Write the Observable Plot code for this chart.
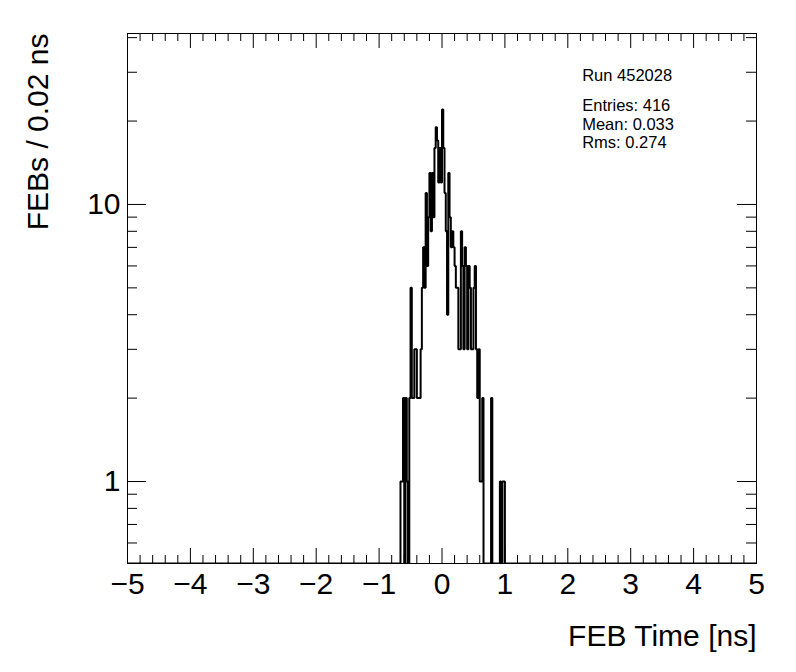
<!DOCTYPE html>
<html>
<head>
<meta charset="utf-8">
<script src="https://cdn.jsdelivr.net/npm/d3@7"></script>
<script src="https://cdn.jsdelivr.net/npm/@observablehq/plot@0.6"></script>
<style>
  html, body { margin: 0; padding: 0; background: #fff; }
  #chart { width: 796px; height: 672px; }
</style>
</head>
<body>
<div id="chart"></div>
<script>
// ---- data ----
const binWidth = 0.02;
const firstBinLowEdge = -0.66;
const counts = [
  1, 1, 2, 0, 2, 1, 0, 2, 5, 2,      // -0.66 .. -0.48
  2, 3, 3, 2, 2, 2, 3, 5, 7, 5,      // -0.46 .. -0.28
  11, 6, 9, 13, 8, 13, 9, 16, 19, 17, // -0.26 .. -0.08
  12, 16, 12, 22, 16, 11, 8, 4, 13, 9, // -0.06 .. 0.12
  7, 8, 7, 6, 5, 5, 3, 3, 8, 6,      // 0.14 .. 0.32
  3, 7, 6, 3, 6, 5, 3, 3, 5, 6,      // 0.34 .. 0.52
  3, 2, 3, 1, 1, 2, 0, 0, 0, 0,      // 0.54 .. 0.72
  0, 0, 2, 0, 0, 0, 0, 0, 0, 1,      // 0.74 .. 0.92
  0, 1, 1                            // 0.94 .. 0.98
];
const xDomain = [-5, 5];
const yDomain = [0.506, 41.4];
const xMajorTicks = [-5, -4, -3, -2, -1, 0, 1, 2, 3, 4, 5];
const yMajorTicks = [1, 10];
const yMinorTicks = [0.6, 0.7, 0.8, 0.9, 2, 3, 4, 5, 6, 7, 8, 9, 20, 30, 40];
const xTitle = "FEB Time [ns]";
const yTitle = "FEBs / 0.02 ns";
const runLabel = "Run 452028";
const statsLines = ["Entries: 416", "Mean: 0.033", "Rms: 0.274"];

// ---- build step series ----
const bins = counts.map((c, i) => ({x: +(firstBinLowEdge + i * binWidth).toFixed(2), count: c}));
const lastEdge = +(firstBinLowEdge + counts.length * binWidth).toFixed(2);
const series = [{x: xDomain[0], count: 0}, ...bins, {x: lastEdge, count: 0}, {x: xDomain[1], count: 0}];
const xMinorTicks = d3.range(-50, 51, 2).map(d => d / 10).filter(d => !Number.isInteger(d));

const W = 796, H = 672, mL = 127, mR = 40, mT = 33, mB = 109;
const plotW = W - mL - mR, plotH = H - mT - mB;
const xMaj = 15, xMin = 8, yMaj = 19, yMin = 10;
const statsX = 454.7, statsTop = 66, statsStep = 18.5, statsFont = 16.5;

const chart = Plot.plot({
  width: W, height: H,
  marginLeft: mL, marginRight: mR, marginTop: mT, marginBottom: mB,
  style: {fontFamily: "'Liberation Sans', Arial, Helvetica, sans-serif", background: "#fff", color: "#000", fontSize: "30px"},
  x: {domain: xDomain, label: null},
  y: {type: "log", domain: yDomain, label: null},
  marks: [
    Plot.lineY(series, {x: "x", y: d => Math.max(d.count, yDomain[0]), curve: "step-after",
      stroke: "#000", strokeWidth: 2, strokeLinejoin: "miter", clip: true}),
    // bottom ticks
    Plot.ruleX(xMajorTicks, {x: d => d, insetTop: plotH - xMaj, stroke: "#000"}),
    Plot.ruleX(xMinorTicks, {x: d => d, insetTop: plotH - xMin, stroke: "#000"}),
    // top ticks
    Plot.ruleX(xMajorTicks, {x: d => d, insetBottom: plotH - xMaj, stroke: "#000"}),
    Plot.ruleX(xMinorTicks, {x: d => d, insetBottom: plotH - xMin, stroke: "#000"}),
    // left ticks
    Plot.ruleY(yMajorTicks, {y: d => d, insetRight: plotW - yMaj, stroke: "#000"}),
    Plot.ruleY(yMinorTicks, {y: d => d, insetRight: plotW - yMin, stroke: "#000"}),
    // right ticks
    Plot.ruleY(yMajorTicks, {y: d => d, insetLeft: plotW - yMaj, stroke: "#000"}),
    Plot.ruleY(yMinorTicks, {y: d => d, insetLeft: plotW - yMin, stroke: "#000"}),
    Plot.frame({stroke: "#000"}),
    Plot.axisX(xMajorTicks, {anchor: "bottom", tickSize: 0, tickPadding: 9, fontSize: 30, label: null}),
    Plot.axisY(yMajorTicks, {anchor: "left", tickSize: 0, tickPadding: 7, fontSize: 30, label: null, tickFormat: d => String(d)}),
    Plot.text([xTitle], {text: d => d, frameAnchor: "bottom-right", textAnchor: "end", lineAnchor: "middle", dy: 72.4, fontSize: 30, fill: "#000"}),
    Plot.text([yTitle], {text: d => d, frameAnchor: "top-left", textAnchor: "end", lineAnchor: "middle", rotate: -90, dx: -89.6, dy: 0, fontSize: 30, fill: "#000"}),
    Plot.text([runLabel], {text: d => d, frameAnchor: "top-left", textAnchor: "start", lineAnchor: "top", dx: statsX, dy: 35.4, fontSize: statsFont, fill: "#000"}),
    ...statsLines.map((s, i) => Plot.text([s], {text: d => d, frameAnchor: "top-left", textAnchor: "start", lineAnchor: "top",
      dx: statsX, dy: statsTop + i * statsStep, fontSize: statsFont, fill: "#000"}))
  ]
});
document.getElementById("chart").appendChild(chart);
</script>
</body>
</html>
